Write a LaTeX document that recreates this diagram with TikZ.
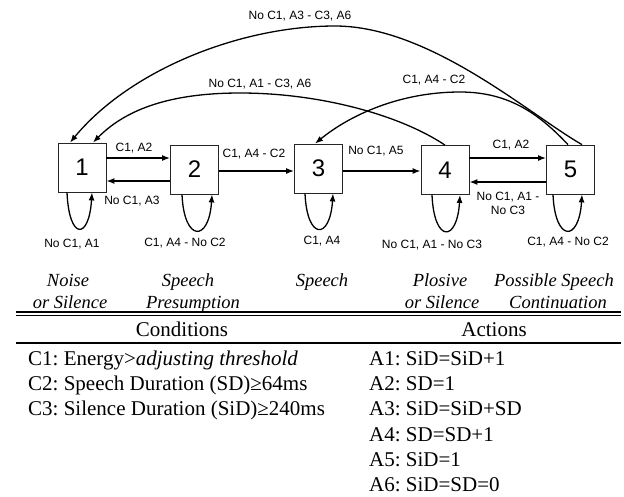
\documentclass[tikz,border=0pt]{standalone}
\usepackage{fontspec}
\setmainfont{Liberation Serif}
\newfontfamily\labfont{Liberation Sans}
\usetikzlibrary{arrows.meta}
\begin{document}
\frenchspacing
\begin{tikzpicture}[x=1pt,y=-1pt,
  state/.style={draw=black!85, line width=0.8pt, minimum width=48pt, minimum height=49pt, inner sep=0pt, font=\labfont\fontsize{24}{24}\selectfont},
  arr/.style={line width=1.3pt, -{Latex[length=8pt,width=6pt]}},
  lab/.style={font=\labfont\fontsize{12}{14}\selectfont, inner sep=0pt, align=center},
  sname/.style={font=\fontsize{18.5}{22}\selectfont\itshape, inner sep=0pt, anchor=base},
  head/.style={font=\fontsize{21}{25}\selectfont, inner sep=0pt, anchor=base},
  item/.style={font=\fontsize{21}{25}\selectfont, inner sep=0pt, anchor=base west},
  rule/.style={line width=1.6pt}]
\useasboundingbox (0,0) rectangle (624,496);

% states
\node[state] (b1) at (82,167.5) {1};
\node[state] (b2) at (194.5,169.5) {2};
\node[state] (b3) at (318.5,168.5) {3};
\node[state] (b4) at (445,170) {4};
\node[state] (b5) at (570.5,169.5) {5};

% straight transitions
\draw[arr] (b1.east |- 0,158) -- (b2.west |- 0,158);
\draw[arr] (b2.west |- 0,181) -- (b1.east |- 0,181);
\draw[arr] (b2.east |- 0,171) -- (b3.west |- 0,171);
\draw[arr] (b3.east |- 0,171) -- (b4.west |- 0,171);
\draw[arr] (b4.east |- 0,158) -- (b5.west |- 0,158);
\draw[arr] (b5.west |- 0,182) -- (b4.east |- 0,182);

% self loops
\draw[arr] ([xshift=-15pt]b1.south) .. controls +(2,48) and +(-3,48) .. ([xshift=10pt]b1.south);
\draw[arr] ([xshift=-12.5pt]b2.south) .. controls +(2,48) and +(-3,48) .. ([xshift=17.5pt]b2.south);
\draw[arr] ([xshift=-13.5pt]b3.south) .. controls +(2,47) and +(-3,47) .. ([xshift=14.5pt]b3.south);
\draw[arr] ([xshift=-13pt]b4.south) .. controls +(2,48) and +(-3,48) .. ([xshift=15pt]b4.south);
\draw[arr] ([xshift=-17.5pt]b5.south) .. controls +(2,48) and +(-3,48) .. ([xshift=11.5pt]b5.south);

% long arcs
\draw[arr] ([xshift=11.5pt]b5.north) .. controls (530,115) and (430,26) .. (335,26)
  .. controls (240,26) and (130,70) .. ([xshift=-12pt]b1.north);
\draw[arr] (b4.north) .. controls (400,115) and (320,93) .. (240,93)
  .. controls (180,93) and (130,105) .. ([xshift=11pt]b1.north);
\draw[arr] ([xshift=-2.5pt]b5.north) .. controls (540,115) and (510,92) .. (460,92)
  .. controls (400,92) and (350,115) .. ([xshift=-3.5pt]b3.north);

% transition labels
\node[lab] (l12) at (134,148) {C1, A2};
\node[lab] (l21) at (132,201) {No C1, A3};
\node[lab] (l23) at (254,154) {C1, A4 - C2};
\node[lab] (l34) at (376,151) {No C1, A5};
\node[lab] (l45) at (511,145) {C1, A2};
\node[lab] (l54) at (508,203) {No C1, A1 -\\No C3};
\node[lab] (l11) at (72,244) {No C1, A1};
\node[lab] (l22) at (185,243) {C1, A4 - No C2};
\node[lab] (l33) at (322,241) {C1, A4};
\node[lab] (l44) at (432,245) {No C1, A1 - No C3};
\node[lab] (l55) at (568,242) {C1, A4 - No C2};
\node[lab] (l51) at (300,16) {No C1, A3 - C3, A6};
\node[lab] (l41) at (260,84) {No C1, A1 - C3, A6};
\node[lab] (l53) at (434,80) {C1, A4 - C2};

% state names
\node[sname] (n1a) at (68,286) {Noise};
\node[sname] (n1b) at (70,308) {or Silence};
\node[sname] (n2a) at (188,286) {Speech};
\node[sname] (n2b) at (193,308) {Presumption};
\node[sname] (n3a) at (322,286) {Speech};
\node[sname] (n4a) at (440,286) {Plosive};
\node[sname] (n4b) at (442,308) {or Silence};
\node[sname] (n5a) at (554,286) {Possible Speech};
\node[sname] (n5b) at (558,308) {Continuation};

% table rules
\draw[rule] (16,311.8) -- (621,311.8);
\draw[rule] (16,315.4) -- (621,315.4);
\draw[rule] (16,342.7) -- (621,342.7);

% table text
\node[head] (hc) at (182,336) {Conditions};
\node[head] (ha) at (494,336) {Actions};
\node[item] (c1) at (28,365) {C1: Energy>\textit{adjusting threshold}};
\node[item] (c2) at (28,390) {C2: Speech Duration (SD)≥64ms};
\node[item] (c3) at (28,415) {C3: Silence Duration (SiD)≥240ms};
\node[item] (a1) at (369,365) {A1: SiD=SiD+1};
\node[item] (a2) at (369,390) {A2: SD=1};
\node[item] (a3) at (369,415) {A3: SiD=SiD+SD};
\node[item] (a4) at (369,441) {A4: SD=SD+1};
\node[item] (a5) at (369,466) {A5: SiD=1};
\node[item] (a6) at (369,491) {A6: SiD=SD=0};
\end{tikzpicture}
\end{document}
